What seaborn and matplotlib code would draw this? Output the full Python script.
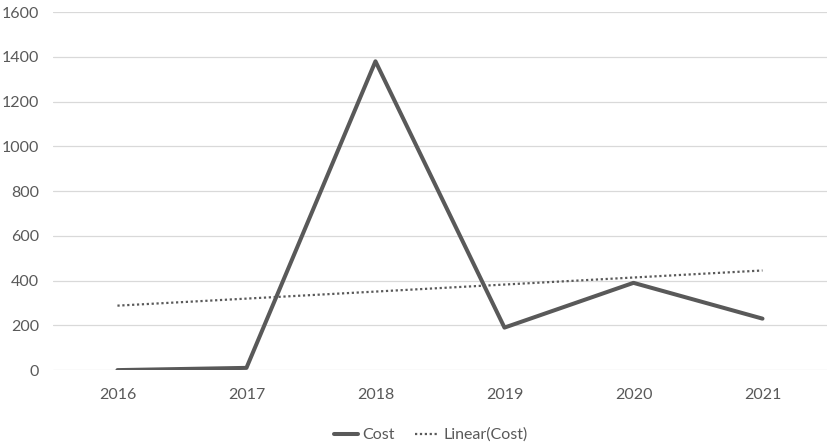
import numpy as np
import pandas as pd
import matplotlib
matplotlib.use("Agg")
import matplotlib.pyplot as plt
import seaborn as sns

years = ["2016", "2017", "2018", "2019", "2020", "2021"]
cost = [0, 10, 1380, 190, 390, 230]
y_ticks = [0, 200, 400, 600, 800, 1000, 1200, 1400, 1600]

sns.set_theme(style="white")
plt.rcParams["font.family"] = ["Lato", "DejaVu Sans"]

df = pd.DataFrame({"pos": np.arange(len(years)), "Cost": cost})
# Least-squares linear trend of the cost series
slope, intercept = np.polyfit(df["pos"], df["Cost"], 1)
df["Linear(Cost)"] = intercept + slope * df["pos"]

fig = plt.figure(figsize=(8.27, 4.47), dpi=100)
ax = fig.add_axes([0.064, 0.172, 0.936, 0.801])

line_color = "#595959"
sns.lineplot(data=df, x="pos", y="Cost", ax=ax, color=line_color,
             linewidth=2.9, label="Cost", zorder=3)
sns.lineplot(data=df, x="pos", y="Linear(Cost)", ax=ax, color=line_color,
             linewidth=1.6, linestyle=(0, (1, 1.2)), label="Linear(Cost)", zorder=2)

ax.set_xlim(-0.5, len(years) - 0.5)
ax.set_ylim(0, 1600)
ax.set_xticks(range(len(years)))
ax.set_xticklabels(years)
ax.set_yticks(y_ticks)
ax.set_xlabel("")
ax.set_ylabel("")
ax.grid(axis="y", color="#d9d9d9", linewidth=0.9)
ax.set_axisbelow(True)
for s in ax.spines.values():
    s.set_visible(False)
ax.tick_params(axis="both", length=0, labelsize=11.5, colors="#595959")
ax.tick_params(axis="x", pad=13)
ax.tick_params(axis="y", pad=10)

leg = ax.legend(loc="center", bbox_to_anchor=(0.521, 0.027),
                bbox_transform=fig.transFigure,
                ncol=2, frameon=False, fontsize=11.5, handlelength=1.5,
                handletextpad=0.25, columnspacing=1.3)
for t in leg.get_texts():
    t.set_color("#595959")

fig.savefig("out.png", dpi=100, facecolor="white")
